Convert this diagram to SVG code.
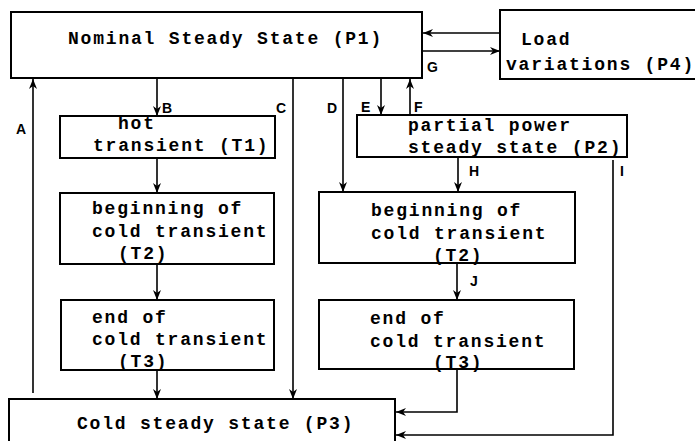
<svg xmlns="http://www.w3.org/2000/svg" width="695" height="441" viewBox="0 0 695 441">
<defs>
<style>
.box{fill:#fff;stroke:#000;stroke-width:2}
.t{font-family:"Liberation Mono","Courier New",monospace;font-size:18px;font-weight:bold;letter-spacing:1.8px;fill:#000}
.lbl{font-family:"Liberation Sans",Arial,sans-serif;font-size:14px;font-weight:bold;fill:#000}
.c{fill:none;stroke:#000;stroke-width:1.6}
</style>
<marker id="ah" markerUnits="userSpaceOnUse" markerWidth="10" markerHeight="8" refX="10" refY="4" orient="auto">
<path d="M0,0 L10,4 L0,8 L3,4 Z" fill="#000"/>
</marker>
</defs>
<rect width="695" height="441" fill="#fff"/>
<g id="P1"><rect class="box" x="11" y="12" width="411" height="66"/><text class="t" x="68" y="44">Nominal Steady State (P1)</text></g>
<g id="P4"><rect class="box" x="500" y="10" width="200" height="69"/><text class="t" x="521" y="45">Load</text><text class="t" x="506" y="70">variations (P4)</text></g>
<g id="T1"><rect class="box" x="60" y="116" width="215" height="42"/><text class="t" x="118" y="129">hot</text><text class="t" x="93" y="151">transient (T1)</text></g>
<g id="T2L"><rect class="box" x="60" y="193" width="214" height="71"/><text class="t" x="92" y="214">beginning of</text><text class="t" x="92" y="237">cold transient</text><text class="t" x="118" y="259">(T2)</text></g>
<g id="T3L"><rect class="box" x="61" y="300" width="213" height="70"/><text class="t" x="92" y="323">end of</text><text class="t" x="92" y="345">cold transient</text><text class="t" x="118" y="367">(T3)</text></g>
<g id="P2"><rect class="box" x="357" y="115" width="270" height="42"/><text class="t" x="408" y="131">partial power</text><text class="t" x="408" y="153">steady state (P2)</text></g>
<g id="T2R"><rect class="box" x="319" y="192" width="256" height="71"/><text class="t" x="371" y="216">beginning of</text><text class="t" x="371" y="239">cold transient</text><text class="t" x="433" y="261">(T2)</text></g>
<g id="T3R"><rect class="box" x="319" y="300" width="255" height="69"/><text class="t" x="370" y="324">end of</text><text class="t" x="370" y="347">cold transient</text><text class="t" x="433" y="368">(T3)</text></g>
<g id="P3"><rect class="box" x="9" y="399" width="386" height="50"/><text class="t" x="77" y="429">Cold steady state (P3)</text></g>
<g id="connectors">
<path class="c" d="M500,33 L423,33" marker-end="url(#ah)"/>
<path class="c" d="M423,51 L500,51" marker-end="url(#ah)"/>
<path class="c" d="M33,393 L33,79" marker-end="url(#ah)"/>
<path class="c" d="M157,78 L157,116" marker-end="url(#ah)"/>
<path class="c" d="M157,158 L157,193" marker-end="url(#ah)"/>
<path class="c" d="M157,264 L157,300" marker-end="url(#ah)"/>
<path class="c" d="M157,370 L157,399" marker-end="url(#ah)"/>
<path class="c" d="M293,78 L293,399" marker-end="url(#ah)"/>
<path class="c" d="M343,78 L343,192" marker-end="url(#ah)"/>
<path class="c" d="M381,78 L381,115" marker-end="url(#ah)"/>
<path class="c" d="M410,115 L410,79" marker-end="url(#ah)"/>
<path class="c" d="M458,157 L458,192" marker-end="url(#ah)"/>
<path class="c" d="M457,263 L457,300" marker-end="url(#ah)"/>
<path class="c" d="M457,369 L457,412 L396,412" marker-end="url(#ah)"/>
<path class="c" d="M613,160 L613,435 L396,435" marker-end="url(#ah)"/>
<text class="lbl" x="16" y="134">A</text>
<text class="lbl" x="162" y="113">B</text>
<text class="lbl" x="276" y="113">C</text>
<text class="lbl" x="327" y="113">D</text>
<text class="lbl" x="361" y="112">E</text>
<text class="lbl" x="414" y="112">F</text>
<text class="lbl" x="427" y="72">G</text>
<text class="lbl" x="469" y="176">H</text>
<text class="lbl" x="620" y="176">I</text>
<text class="lbl" x="470" y="286">J</text>
</g>
</svg>
